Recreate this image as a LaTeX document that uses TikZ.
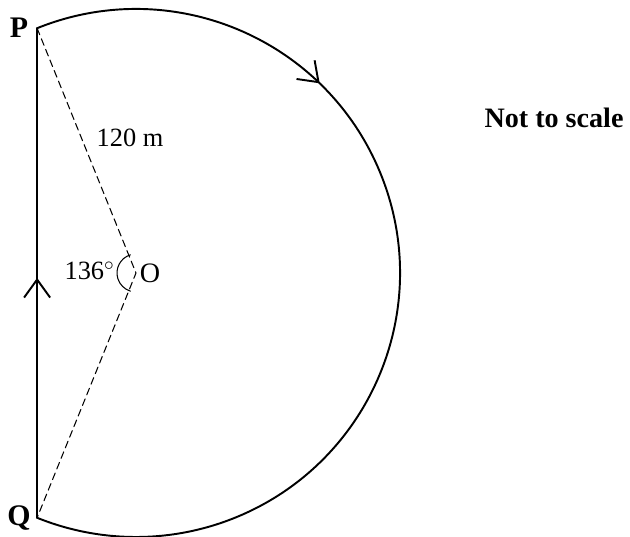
\documentclass[tikz,border=0pt]{standalone}
\usepackage{fontspec}
\setmainfont{Liberation Serif}
\usetikzlibrary{arrows.meta,decorations.markings}
\begin{document}
\begin{tikzpicture}[>={Straight Barb[length=0.36cm,width=0.52cm]},line join=round,line cap=round,
	font=\fontsize{15}{18}\selectfont,
	edge/.style={line width=1.1pt},
	radius line/.style={line width=0.6pt,dash pattern=on 4pt off 2.5pt},
	arrow at/.style={postaction={decorate},decoration={markings,mark=at position #1 with {\arrow{>}}}}]
	\useasboundingbox (-2.72,-5.28) rectangle (9.88,5.46);
	\path (0,0) coordinate (O)
	++(112:5.28) coordinate (P);
	\path (O) ++(248:5.28) coordinate (Q);
	\draw[edge,arrow at=0.49] (Q)--(P);
	\draw[edge,arrow at=0.295] (P) arc (112:-112:5.28); % cung tròn
	\draw[radius line] (P)--(O)--(Q);
	\draw[line width=0.6pt] (O) ++(107:0.38) arc (107:253:0.38);
	\foreach \x/\y/\d in {P/180/0.36,Q/180/0.36}{\path (\x)++(\y:\d) node[font=\fontsize{17}{20}\selectfont\bfseries]{\x};}
	\path (O)++(0:0.28) node[font=\fontsize{16}{19}\selectfont]{O};
	\path (O)++(-0.42,0.04) node[anchor=east,inner sep=0pt]{136$^\circ$};
	\path (-0.12,2.70) node{120 m};
	\path (8.36,3.10) node[font=\fontsize{16}{19}\selectfont\bfseries]{Not to scale};
\end{tikzpicture}
\end{document}
